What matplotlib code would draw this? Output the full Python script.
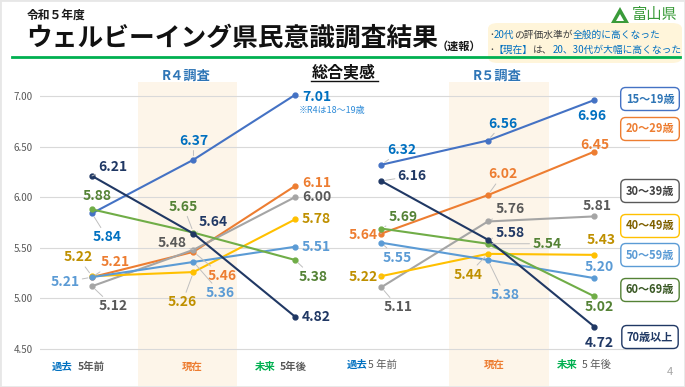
import numpy as np
import matplotlib
matplotlib.use("Agg")
import matplotlib.pyplot as plt
from matplotlib.patches import FancyBboxPatch, Polygon, Rectangle
from matplotlib.lines import Line2D

plt.rcParams['font.family'] = ['Noto Sans CJK JP', 'DejaVu Sans']

# data
groups = ['15～19歳', '20～29歳', '30～39歳', '40～49歳', '50～59歳', '60～69歳', '70歳以上']
r4_past = [5.84, 5.21, 5.12, 5.22, 5.21, 5.88, 6.21]
r4_now = [6.37, 5.46, 5.48, 5.26, 5.36, 5.65, 5.64]
r4_future = [7.01, 6.11, 6.00, 5.78, 5.51, 5.38, 4.82]
r5_past = [6.32, 5.64, 5.11, 5.22, 5.55, 5.69, 6.16]
r5_now = [6.56, 6.02, 5.76, 5.44, 5.38, 5.54, 5.58]
r5_future = [6.96, 6.45, 5.81, 5.43, 5.20, 5.02, 4.72]
yticks = [4.50, 5.00, 5.50, 6.00, 6.50, 7.00]

# styles
line_colors = ['#4472C4', '#ED7D31', '#A5A5A5', '#FFC000', '#5B9BD5', '#70AD47', '#203864']
text_colors = ['#0070C0', '#ED7D31', '#595959', '#BF9000', '#5B9BD5', '#548235', '#203864']
box_text = ['#2E75B6', '#ED7D31', '#404040', '#7F6000', '#5B9BD5', '#385723', '#1F3864']
box_edge = ['#4472C4', '#ED7D31', '#595959', '#FFC000', '#5B9BD5', '#548235', '#203864']
box_y = [99, 129, 191, 226, 255, 290, 337]

left_x = [0, 1, 2]
right_x = [2.85, 3.9, 4.95]

# label offsets in pixels (dx, dy downwards, align)
r4_off = [
    [(15, 24, 'center'), (0, -19, 'center'), (7, 2, 'left')],
    [(23, -15, 'center'), (29, 24, 'center'), (7, -3, 'left')],
    [(21, 20, 'center'), (-21, -7, 'center'), (7, 0, 'left')],
    [(-14, -19, 'center'), (-11, 30, 'center'), (7, 0, 'left')],
    [(-27, 5, 'center'), (27, 31, 'center'), (7, 0, 'left')],
    [(5, -13, 'center'), (-10, -26, 'center'), (18, 17, 'center')],
    [(21, -9, 'center'), (20, -12, 'center'), (7, 0, 'left')],
]
r5_off = [
    [(21, -15, 'center'), (15, -17, 'center'), (-3, 16, 'center')],
    [(-18, 1, 'center'), (15, -21, 'center'), (0, -7, 'center')],
    [(17, 20, 'center'), (22, -12, 'center'), (3, -10, 'center')],
    [(-18, 1, 'center'), (-20, 21, 'center'), (7, -15, 'center')],
    [(16, 15, 'center'), (17, 35, 'center'), (5, -11, 'center')],
    [(22, -12, 'center'), (59, 0, 'center'), (5, 11, 'center')],
    [(31, -5, 'center'), (22, -7, 'center'), (5, 16, 'center')],
]

W, H = 685, 387


def fx(x):
    return x / W


def fy(y):
    return 1 - y / H


fig = plt.figure(figsize=(6.85, 3.87), dpi=100)
fig.patch.set_facecolor('white')
ax = fig.add_axes([fx(40), 0, 610 / W, 305 / H])
ax.set_facecolor('none')
ax.set_xlim(-0.512, 5.498)
ax.set_ylim(4.1245, 7.138)
for s in ax.spines.values():
    s.set_visible(False)
ax.set_xticks([])
ax.set_yticks(yticks)
ax.set_yticklabels([f"{t:.2f}" for t in yticks], color='#595959', fontsize=7)
ax.tick_params(axis='y', length=0, pad=5)
ax.grid(axis='y', color='#D9D9D9', lw=0.8)
ax.set_axisbelow(True)
ax.axvspan(0.453, 1.429, color='#FDF5E9', zorder=0, lw=0)
ax.axvspan(3.517, 4.50, color='#FDF5E9', zorder=0, lw=0)


def draw_panel(xs, past, now, future, offsets):
    for i in range(len(groups)):
        vals = [past[i], now[i], future[i]]
        ax.plot(xs, vals, color=line_colors[i], lw=1.5, marker='o', ms=3.5, zorder=3)
        for j in range(3):
            dx, dy, ha = offsets[i][j]
            long = ha == 'center' and np.hypot(dx, dy) > 17
            ax.annotate(f"{vals[j]:.2f}", xy=(xs[j], vals[j]), xytext=(dx, -dy),
                        textcoords='offset pixels', ha=ha, va='center',
                        fontsize=10, fontweight='bold', color=text_colors[i], zorder=4,
                        arrowprops=dict(arrowstyle='-', color='#BFBFBF', lw=0.7,
                                        shrinkA=0, shrinkB=3) if long else None)


draw_panel(left_x, r4_past, r4_now, r4_future, r4_off)
draw_panel(right_x, r5_past, r5_now, r5_future, r5_off)

# callout boxes
for i, g in enumerate(groups):
    fig.text(fx(650), fy(box_y[i]), g, ha='center', va='center', fontsize=8,
             fontweight='bold', color=box_text[i],
             bbox=dict(boxstyle='round,pad=0.45', fc='white', ec=box_edge[i], lw=1))

# header
fig.add_artist(Rectangle((0, 0), 1, 1, transform=fig.transFigure, fill=False,
                         ec='#E7E7E7', lw=2))
fig.text(fx(27), fy(15), '令和５年度', fontsize=8.5, fontweight='bold', va='center', color='#1A1A1A')
fig.text(fx(26), fy(38), 'ウェルビーイング県民意識調査結果', fontsize=18.5,
         fontweight='bold', va='center', color='#111111')
fig.text(fx(437), fy(46), '（速報）', fontsize=8, fontweight='bold', va='center', color='#1A1A1A')
fig.add_artist(Line2D([fx(12), fx(680)], [fy(57), fy(57)], color='#00B050', lw=2))

box = FancyBboxPatch((fx(488), fy(63)), fx(194), 40 / H, transform=fig.transFigure,
                     boxstyle='round,pad=0,rounding_size=0.015', fc='#FFF5DA', ec='none')
fig.add_artist(box)

blue = '#0070C0'
dark = '#404040'
lines = [
    [('･', dark), ('20代', blue), ('の評価水準が', dark), ('全般的に高くなった', blue)],
    [('･', dark), ('【現在】', blue), ('は、', dark), ('20、30代が大幅に高くなった', blue)],
]
for k, segs in enumerate(lines):
    prev = fig.text(fx(489), fy(35 + 15 * k), segs[0][0], color=segs[0][1],
                    fontsize=7.0, va='center')
    for s, c in segs[1:]:
        prev = fig.add_artist(plt.Annotation(s, xy=(1, 0.5), xycoords=prev,
                                             color=c, fontsize=7.0, va='center', ha='left'))

# logo
fig.add_artist(Polygon([(fx(611), fy(23)), (fx(629), fy(23)), (fx(620), fy(7))],
                       closed=True, transform=fig.transFigure, fc='#3A9B3A', ec='none'))
fig.add_artist(Polygon([(fx(616), fy(21)), (fx(624), fy(21)), (fx(620), fy(14))],
                       closed=True, transform=fig.transFigure, fc='white', ec='none'))
fig.text(fx(655), fy(15), '富山県', fontsize=11, color='#3A9B3A', ha='center', va='center')

# section titles
fig.text(fx(344), fy(72), '総合実感', fontsize=11.5, fontweight='bold', ha='center',
         va='center', color='#111111')
fig.add_artist(Line2D([fx(311), fx(378)], [fy(81), fy(81)], color='#111111', lw=1))
fig.text(fx(186), fy(76), 'R４調査', fontsize=9.5, fontweight='bold', ha='center',
         va='center', color='#2E75B6')
fig.text(fx(497), fy(76), 'R５調査', fontsize=9.5, fontweight='bold', ha='center',
         va='center', color='#2E75B6')
fig.text(fx(299), fy(111), '※R4は18～19歳', fontsize=6.5, va='center', color='#2E8BD8')

# bottom labels
fig.text(fx(52), fy(367), '過去', fontsize=7.5, fontweight='bold', color='#0070C0', va='center')
fig.text(fx(78), fy(367), '5年前', fontsize=7.5, fontweight='bold', color='#595959', va='center')
fig.text(fx(192), fy(367), '現在', fontsize=7.5, fontweight='bold', color='#ED7D31', va='center', ha='center')
fig.text(fx(255), fy(367), '未来', fontsize=7.5, fontweight='bold', color='#00B050', va='center')
fig.text(fx(280), fy(367), '5年後', fontsize=7.5, fontweight='bold', color='#595959', va='center')
fig.text(fx(347), fy(365), '過去', fontsize=7.5, fontweight='bold', color='#0070C0', va='center')
fig.text(fx(368), fy(365), '5 年前', fontsize=7.5, color='#595959', va='center')
fig.text(fx(494), fy(365), '現在', fontsize=7.5, fontweight='bold', color='#ED7D31', va='center', ha='center')
fig.text(fx(557), fy(365), '未来', fontsize=7.5, fontweight='bold', color='#00B050', va='center')
fig.text(fx(582), fy(365), '5 年後', fontsize=7.5, color='#595959', va='center')
fig.text(fx(667), fy(372), '4', fontsize=8, color='#A6A6A6', va='center')

fig.savefig('out.png', dpi=100)
